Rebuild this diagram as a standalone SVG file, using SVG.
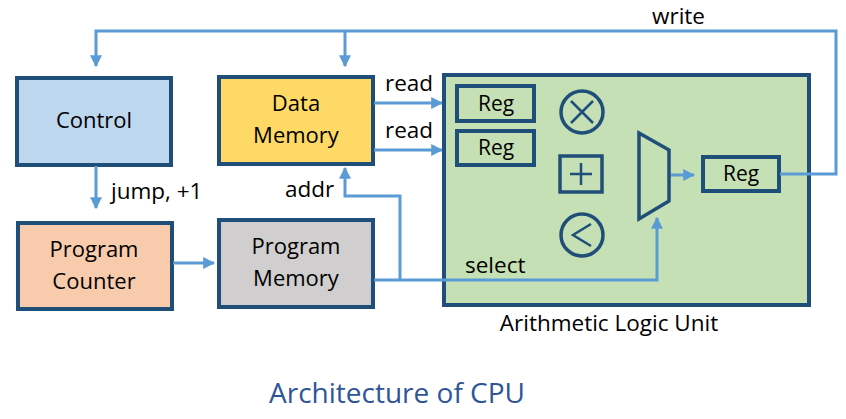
<svg xmlns="http://www.w3.org/2000/svg" width="846" height="419" viewBox="0 0 846 419">
<defs>
<marker id="ah" viewBox="0 0 10 10" refX="9" refY="5" markerWidth="4" markerHeight="4" orient="auto-start-reverse">
<path d="M0,0 L10,5 L0,10 z" fill="#5B9BD5"/>
</marker>
<style>
.box{stroke:#1F4E79;stroke-width:4}
.t{font-family:"Open Sans","Liberation Sans",sans-serif;fill:#000}
.c{font-size:22px;text-anchor:middle}
.r{font-size:21px;text-anchor:middle}
.l{font-size:22.5px}
.w{fill:none;stroke:#5B9BD5;stroke-width:3;stroke-linejoin:miter}
.a{marker-end:url(#ah)}
.sym{fill:none;stroke:#1F4E79;stroke-width:3.5}
</style>
</defs>
<rect width="846" height="419" fill="#fff"/>

<g id="alu">
<rect class="box" x="444" y="75" width="365" height="230" fill="#C5E0B4"/>
<text class="t" x="609" y="331" style="font-size:22.5px;text-anchor:middle">Arithmetic Logic Unit</text>
</g>
<g id="reg1"><rect class="box" x="457" y="86" width="77" height="35" fill="none"/><text class="t r" x="496" y="111">Reg</text></g>
<g id="reg2"><rect class="box" x="457" y="131" width="77" height="34" fill="none"/><text class="t r" x="496" y="155">Reg</text></g>
<g id="reg3"><rect class="box" x="703" y="157" width="76" height="34" fill="none"/><text class="t r" x="741" y="181">Reg</text></g>
<g id="mul"><circle class="sym" cx="582" cy="112" r="21"/><path class="sym" d="M571,101 L593,123 M593,101 L571,123" style="stroke-width:2.5"/></g>
<g id="add"><rect class="sym" x="560" y="156" width="42" height="36"/><path class="sym" d="M570,174 L592,174 M581,163 L581,185" style="stroke-width:2.5"/></g>
<g id="lt"><circle class="sym" cx="582" cy="235" r="21"/><path class="sym" d="M591,224 L573,235 L591,246" style="stroke-width:2.5"/></g>
<g id="mux"><path class="sym" d="M639,133 L669,150 L669,201 L639,219 Z"/></g>

<g id="control"><rect class="box" x="17" y="78" width="154" height="87" fill="#BDD7EE"/><text class="t c" x="94" y="128">Control</text></g>
<g id="datamem"><rect class="box" x="219" y="77" width="154" height="87" fill="#FFD966"/><text class="t c" x="296" y="111">Data</text><text class="t c" x="296" y="143">Memory</text></g>
<g id="pc"><rect class="box" x="18" y="223" width="154" height="86" fill="#F8CBAD"/><text class="t c" x="94" y="257">Program</text><text class="t c" x="94" y="289">Counter</text></g>
<g id="pm"><rect class="box" x="219" y="220" width="154" height="87" fill="#D0CECE"/><text class="t c" x="296" y="254">Program</text><text class="t c" x="296" y="286">Memory</text></g>

<g id="connectors">
<path class="w" d="M780,174 L836,174 L836,31 L96,31 L96,66" marker-end="url(#ah)"/>
<path class="w a" d="M345,31 L345,66"/>
<path class="w a" d="M374,103 L442,103"/>
<path class="w a" d="M374,150 L442,150"/>
<path class="w a" d="M96,166 L96,208"/>
<path class="w a" d="M173,263 L214,263"/>
<path class="w a" d="M374,280 L657,280 L657,218"/>
<path class="w a" d="M400,280 L400,196 L345,196 L345,168"/>
<path class="w a" d="M671,175 L694,175"/>
</g>

<g id="labels">
<text class="t l" x="652" y="24">write</text>
<text class="t l" x="385" y="91">read</text>
<text class="t l" x="385" y="138">read</text>
<text class="t l" x="111" y="199">jump, +1</text>
<text class="t l" x="285" y="197">addr</text>
<text class="t l" x="465" y="273">select</text>
</g>
<text class="t" x="397" y="403" style="font-size:28px;text-anchor:middle;fill:#2F5597">Architecture of CPU</text>
</svg>
